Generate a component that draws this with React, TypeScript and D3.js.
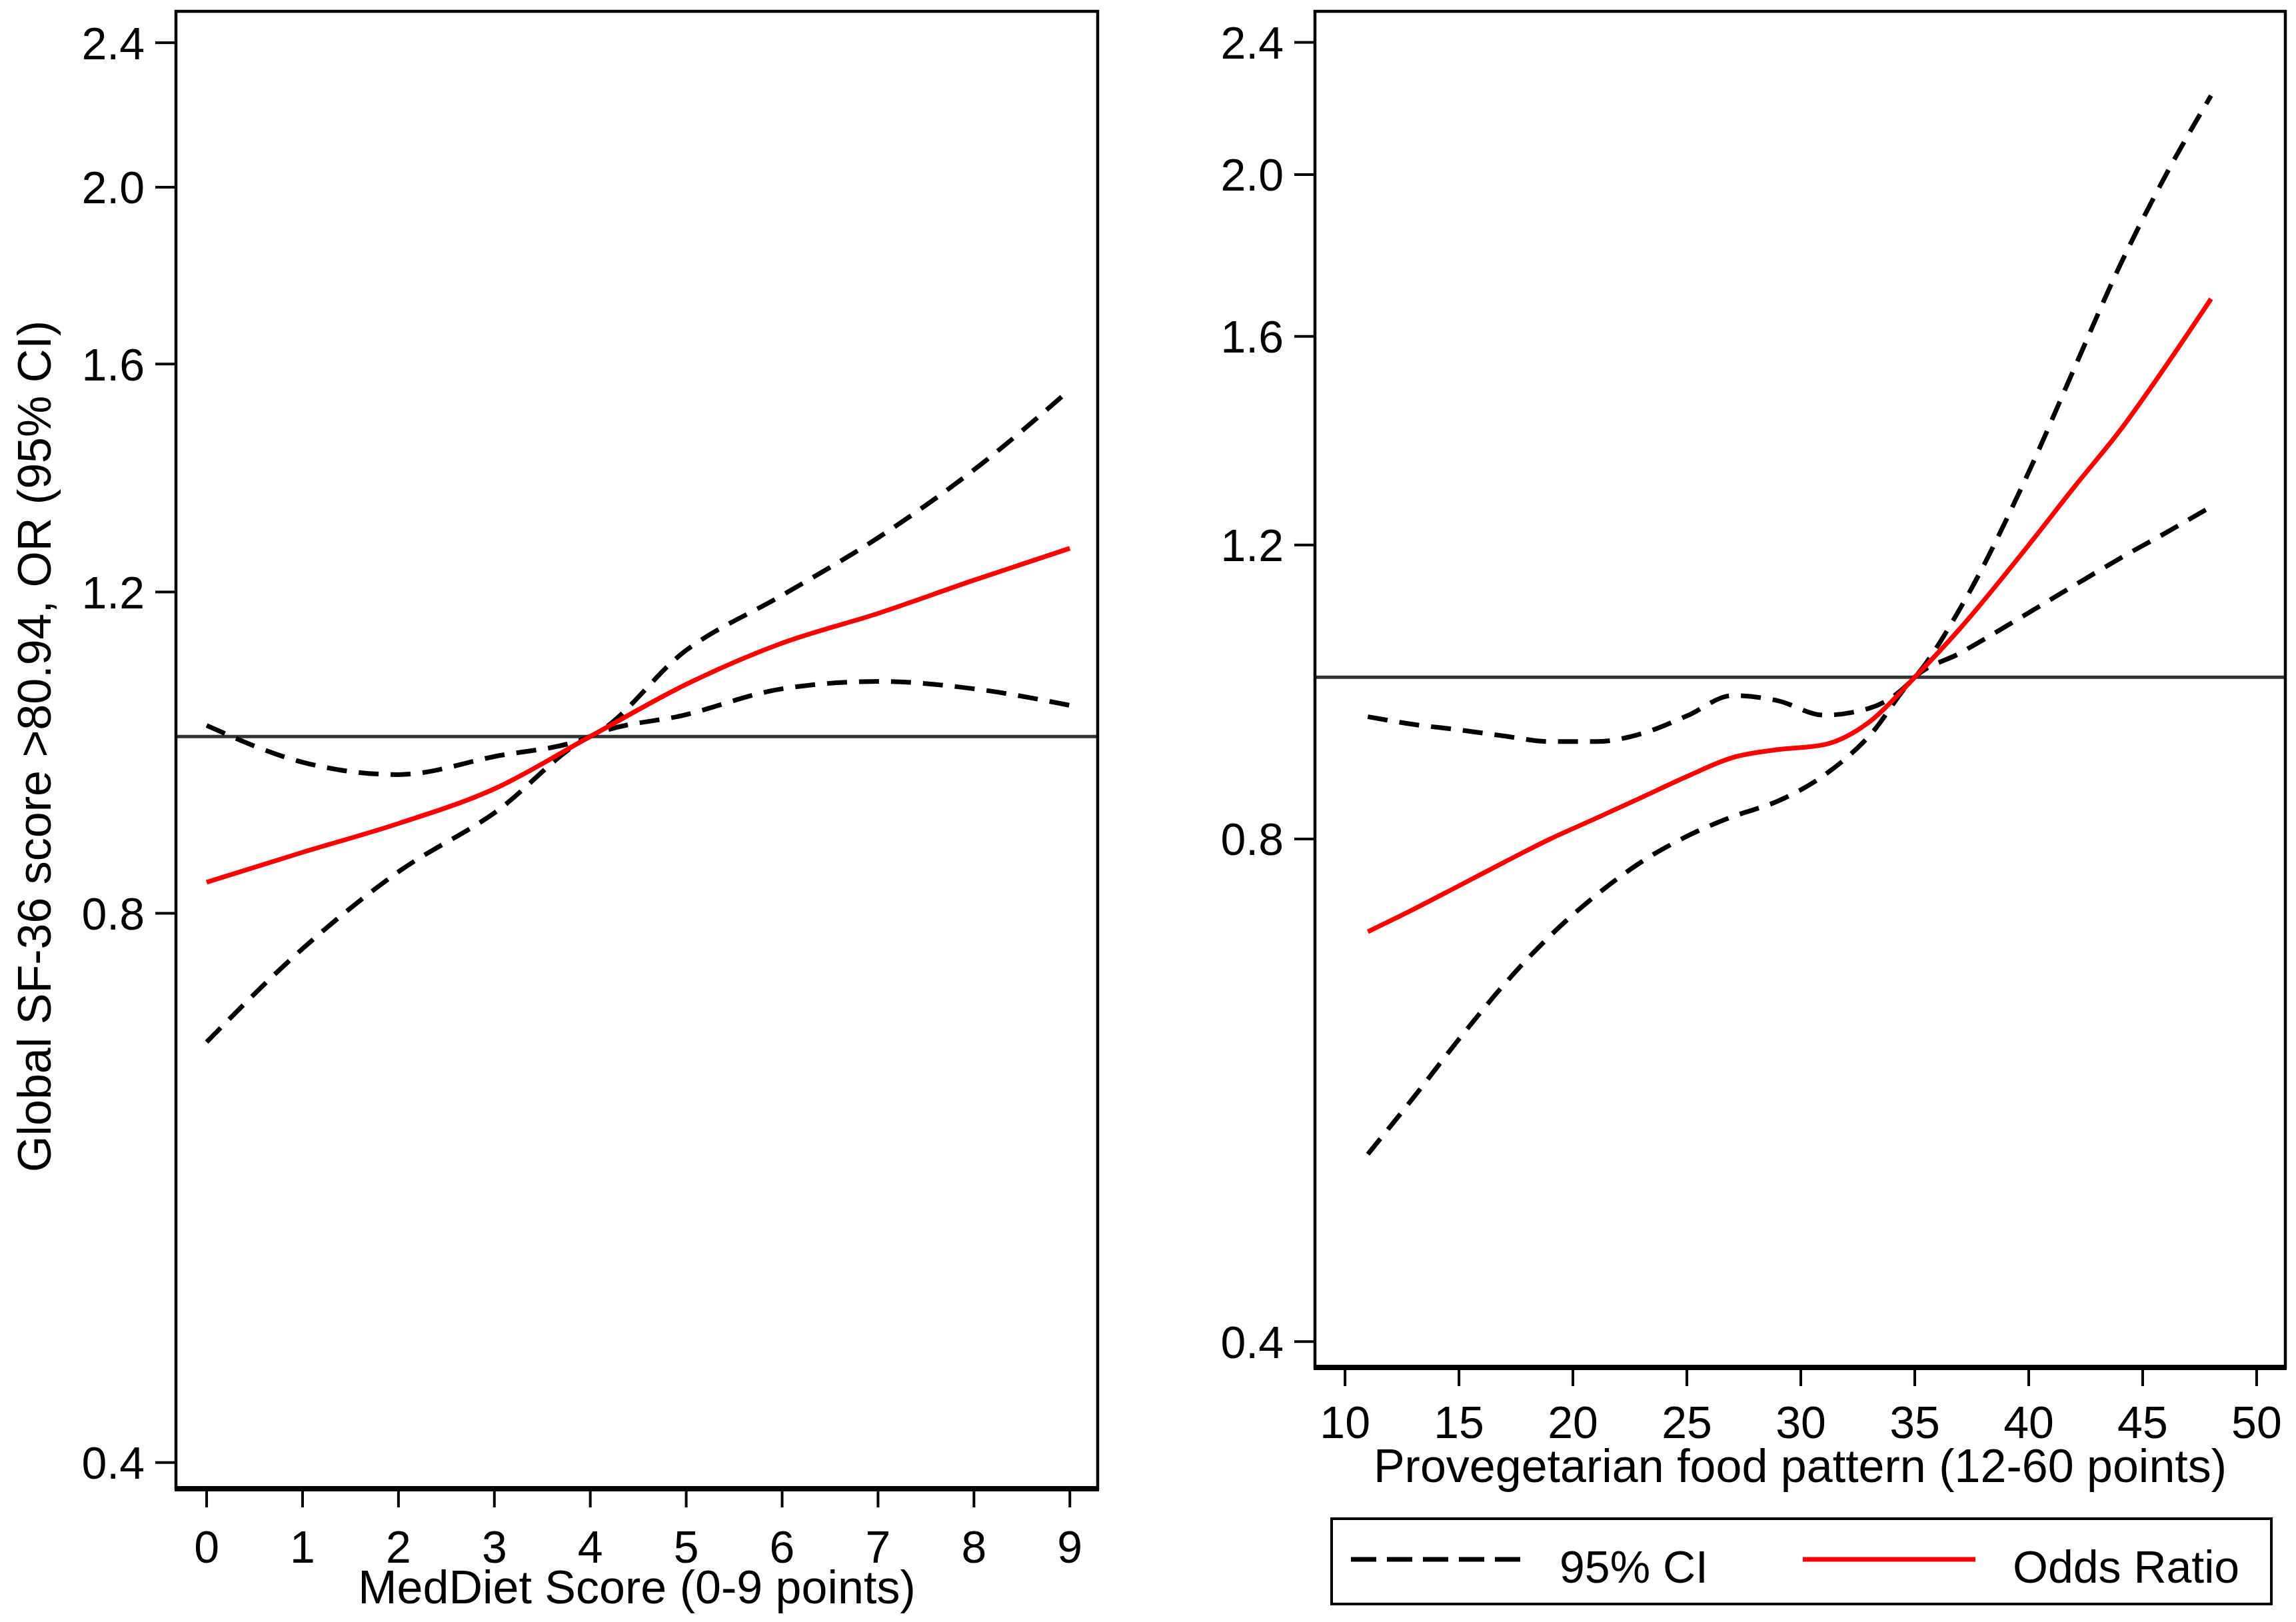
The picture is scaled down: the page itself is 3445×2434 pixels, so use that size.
import React from 'react';
import * as d3 from 'd3';

// Left panel: MedDiet score
const medX = [0, 1, 2, 3, 4, 5, 6, 7, 8, 9];
const medOR = [0.832, 0.864, 0.896, 0.936, 1.0, 1.068, 1.125, 1.168, 1.218, 1.268];
const medUpper = [1.014, 0.968, 0.953, 0.975, 1.0, 1.115, 1.195, 1.285, 1.4, 1.549];
const medLower = [0.68, 0.765, 0.843, 0.908, 1.0, 1.028, 1.062, 1.072, 1.062, 1.04];
const medTicksX = [0, 1, 2, 3, 4, 5, 6, 7, 8, 9];

// Right panel: provegetarian food pattern
const pvgX = [11, 13, 15, 17, 19, 21, 23, 25, 27, 29, 31, 33, 35, 37, 40, 42, 44, 46, 48];
const pvgOR = [0.704, 0.726, 0.75, 0.775, 0.8, 0.823, 0.847, 0.872, 0.895, 0.905, 0.911, 0.94, 1.0, 1.07, 1.2, 1.3, 1.405, 1.535, 1.685];
const pvgUpper = [0.947, 0.937, 0.93, 0.922, 0.915, 0.915, 0.925, 0.948, 0.975, 0.968, 0.949, 0.958, 1.0, 1.1, 1.327, 1.531, 1.764, 1.997, 2.23];
const pvgLower = [0.518, 0.56, 0.607, 0.655, 0.7, 0.74, 0.775, 0.803, 0.825, 0.843, 0.873, 0.922, 1.0, 1.034, 1.093, 1.135, 1.178, 1.22, 1.265];
const pvgTicksX = [10, 15, 20, 25, 30, 35, 40, 45, 50];

const yTicks = [0.4, 0.8, 1.2, 1.6, 2.0, 2.4];

const FONT = '"Liberation Sans", Arial, sans-serif';
const FS = 68;
const FS_TITLE = 70;
const RED = '#ff0000';
const DASH = '30 18';

interface PanelProps {
  left: number;
  right: number;
  top: number;
  bottom: number;
  xDomain: [number, number];
  yDomain: [number, number];
  xs: number[];
  or: number[];
  upper: number[];
  lower: number[];
  xTicks: number[];
  xTitle: string;
  labelOffset: number;
}

const Panel: React.FC<PanelProps> = ({
  left, right, top, bottom, xDomain, yDomain, xs, or, upper, lower, xTicks, xTitle, labelOffset
}) => {
  const x = d3.scaleLinear().domain(xDomain).range([left, right]);
  const y = d3.scaleLog().domain(yDomain).range([bottom, top]);

  const line = d3.line<number>()
    .x((_, i) => x(xs[i]))
    .y((d) => y(d))
    .curve(d3.curveMonotoneX);

  return (
    <g>
      {/* reference line at OR = 1 */}
      <line x1={left} x2={right} y1={y(1)} y2={y(1)} stroke="#333" strokeWidth={5} />

      <path d={line(upper) || ''} fill="none" stroke="#000" strokeWidth={7} strokeDasharray={DASH} />
      <path d={line(lower) || ''} fill="none" stroke="#000" strokeWidth={7} strokeDasharray={DASH} />
      <path d={line(or) || ''} fill="none" stroke={RED} strokeWidth={7} />

      {/* frame */}
      <rect x={left} y={top} width={right - left} height={bottom - top} fill="none" stroke="#000" strokeWidth={4.5} />
      <line x1={left - 2} x2={right + 2} y1={bottom} y2={bottom} stroke="#000" strokeWidth={8} />

      {/* y axis */}
      {yTicks.map((t) => (
        <g key={t}>
          <line x1={left - 31} x2={left} y1={y(t)} y2={y(t)} stroke="#000" strokeWidth={4} />
          <text x={left - 47} y={y(t)} dy="0.36em" textAnchor="end" fontSize={FS} fontFamily={FONT}>
            {d3.format('.1f')(t)}
          </text>
        </g>
      ))}

      {/* x axis */}
      {xTicks.map((t) => (
        <g key={t}>
          <line x1={x(t)} x2={x(t)} y1={bottom} y2={bottom + 28} stroke="#000" strokeWidth={4} />
          <text x={x(t)} y={bottom + labelOffset} textAnchor="middle" fontSize={FS} fontFamily={FONT}>
            {t}
          </text>
        </g>
      ))}
      <text x={(left + right) / 2} y={bottom + 172} textAnchor="middle" fontSize={FS_TITLE} fontFamily={FONT}>
        {xTitle}
      </text>
    </g>
  );
};

const App: React.FC = () => {
  const W = 3445;
  const H = 2434;
  return (
    <svg width={W} height={H} style={{ position: 'absolute', left: 0, top: 0, background: '#fff' }}>
      <rect x={0} y={0} width={W} height={H} fill="#fff" />
      <Panel
        left={264} right={1647} top={17} bottom={2234}
        xDomain={[-0.32, 9.29]} yDomain={[0.387, 2.497]}
        xs={medX} or={medOR} upper={medUpper} lower={medLower}
        xTicks={medTicksX} xTitle="MedDiet Score (0-9 points)" labelOffset={111}
      />
      <Panel
        left={1973} right={3429} top={17} bottom={2052}
        xDomain={[8.68, 51.26]} yDomain={[0.386, 2.505]}
        xs={pvgX} or={pvgOR} upper={pvgUpper} lower={pvgLower}
        xTicks={pvgTicksX} xTitle="Provegetarian food pattern (12-60 points)" labelOffset={106}
      />

      <text transform="translate(76,1120) rotate(-90)" textAnchor="middle" fontSize={FS_TITLE} fontFamily={FONT}>
        Global SF-36 score &gt;80.94, OR (95% CI)
      </text>

      {/* legend */}
      <g>
        <rect x={1998} y={2279} width={1410} height={128} fill="#fff" stroke="#000" strokeWidth={4} />
        <line x1={2027} x2={2283} y1={2340} y2={2340} stroke="#000" strokeWidth={7} strokeDasharray="38 16" />
        <text x={2340} y={2375} fontSize={FS} fontFamily={FONT}>95% CI</text>
        <line x1={2705} x2={2964} y1={2340} y2={2340} stroke={RED} strokeWidth={7} />
        <text x={3020} y={2375} fontSize={FS} fontFamily={FONT}>Odds Ratio</text>
      </g>
    </svg>
  );
};

export default App;
